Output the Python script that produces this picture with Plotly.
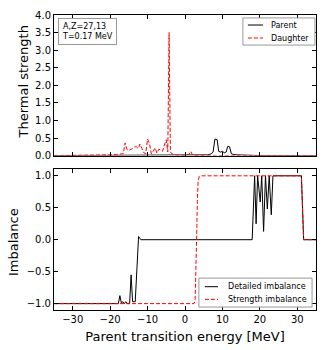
import plotly.graph_objects as go
from plotly.subplots import make_subplots

# Thermal strength (top panel)
parent_e = [-35, 3.5, 4.0, 5.0, 6.0, 6.5, 7.0, 7.5, 8.0, 8.6, 9.0, 9.5, 10.0, 10.5, 11.0, 11.4, 11.9, 12.4, 13.0, 14.0, 16.0, 18.0, 20.0, 35]
parent_s = [0, 0, 0.01, 0.01, 0.02, 0.03, 0.05, 0.1, 0.47, 0.45, 0.12, 0.1, 0.12, 0.08, 0.1, 0.26, 0.25, 0.05, 0.03, 0.02, 0.01, 0.01, 0, 0]

daughter_e = [-35, -25, -24, -23, -22, -21, -20, -19, -18, -17, -16.5, -16, -15.5, -15, -14.5, -14, -13.5, -13,
              -12.5, -12, -11.5, -11, -10.5, -10, -9.5, -9, -8.5, -8, -7.5, -7, -6.5, -6, -5.5, -5, -4.6,
              -4.25, -3.9, -3.5, -3, -2.5, -2, -1, 0, 1, 1.5, 2, 2.5, 35]
daughter_s = [0, 0, 0.01, 0.01, 0.0, 0.02, 0.02, 0.03, 0.02, 0.05, 0.05, 0.36, 0.17, 0.15, 0.17, 0.2, 0.25, 0.25,
              0.2, 0.33, 0.2, 0.08, 0.05, 0.47, 0.35, 0.05, 0.12, 0.22, 0.07, 0.18, 0.15, 0.12, 0.3, 0.45, 0.1,
              3.5, 0.1, 0.05, 0.03, 0.01, 0.01, 0.01, 0, 0.02, 0.12, 0.02, 0, 0]

# Imbalance (bottom panel)
detail_e = [-35, -17.8, -17.4, -17.0, -16.6, -16.2, -15.8, -15.3, -14.8, -14.4, -14.0, -13.3, -12.4, -12.1, -11.8,
            17.95, 18.6, 19.0, 19.4, 20.1, 20.5, 21.0, 21.5, 22.0, 22.5, 23.05, 23.5, 31.1, 31.7, 35]
detail_i = [-1, -1, -0.875, -0.99, -0.97, -1.0, -0.97, -1.0, -1.0, -0.55, -0.97, -0.97, 0.05, 0.02, 0,
            0, 1.0, 0.25, 1.0, 0.59, 1.0, 0.13, 1.0, 0.48, 1.0, 0.39, 1.0, 1.0, 0, 0]

strength_e = [-35, 2.4, 2.7, 2.9, 3.1, 3.3, 3.5, 3.8, 4.3, 31.1, 31.7, 35]
strength_i = [-1, -1, -0.95, -0.6, 0.0, 0.6, 0.92, 0.99, 1.0, 1.0, 0, 0]

font = "DejaVu Sans"
red_dash = dict(color="red", width=1, dash="4px,2px")
black_line = dict(color="black", width=1)

fig = make_subplots(rows=2, cols=1, vertical_spacing=0.047)

fig.add_trace(go.Scatter(x=parent_e, y=parent_s, mode="lines", name="Parent", line=black_line), row=1, col=1)
fig.add_trace(go.Scatter(x=daughter_e, y=daughter_s, mode="lines", name="Daughter", line=red_dash), row=1, col=1)
fig.add_trace(go.Scatter(x=detail_e, y=detail_i, mode="lines", name="Detailed imbalance", line=black_line), row=2, col=1)
fig.add_trace(go.Scatter(x=strength_e, y=strength_i, mode="lines", name="Strength imbalance", line=red_dash), row=2, col=1)

axis_style = dict(showline=True, linecolor="black", linewidth=1, mirror="ticks", ticks="inside",
                  ticklen=4, tickcolor="black", showgrid=False, zeroline=False, automargin=False,
                  tickfont=dict(family=font, size=10, color="black"))
title_font = dict(family=font, size=13, color="black")

fig.update_xaxes(range=[-35, 35], tickvals=[-30, -20, -10, 0, 10, 20, 30], **axis_style)
fig.update_xaxes(showticklabels=False, row=1, col=1)
fig.update_xaxes(title=dict(text="Parent transition energy [MeV]", font=title_font, standoff=7), row=2, col=1)
fig.update_yaxes(**axis_style)
fig.update_yaxes(range=[0, 4], dtick=0.5, tickformat=".1f", row=1, col=1)
fig.update_yaxes(range=[-1.1, 1.1], dtick=0.5, tickformat=".1f", row=2, col=1)

# y titles placed as rotated annotations
fig.add_annotation(xref="paper", yref="paper", x=-0.1164, y=0.7729, xanchor="center", yanchor="middle",
                   text="Thermal strength", textangle=-90, showarrow=False, font=title_font)
fig.add_annotation(xref="paper", yref="paper", x=-0.1546, y=0.2322, xanchor="center", yanchor="middle",
                   text="Imbalance", textangle=-90, showarrow=False, font=title_font)

# info box
fig.add_annotation(xref="paper", yref="paper", x=0.015, y=0.99, xanchor="left", yanchor="top",
                   text="A,Z=27,13<br>T=0.17 MeV", showarrow=False, align="left",
                   font=dict(family=font, size=8, color="black"),
                   bordercolor="#999999", borderwidth=1, borderpad=3, bgcolor="white")

# hand-drawn legends (matplotlib style)
legends = [
    dict(box=(0.721, 0.898, 0.996, 0.990), x0=0.740, x1=0.798, tx=0.821,
         rows=[("Parent", black_line, 0.966), ("Daughter", red_dash, 0.922)]),
    dict(box=(0.553, 0.010, 0.985, 0.108), x0=0.576, x1=0.626, tx=0.656,
         rows=[("Detailed imbalance", black_line, 0.079), ("Strength imbalance", red_dash, 0.036)]),
]
for lg in legends:
    bx0, by0, bx1, by1 = lg["box"]
    fig.add_shape(type="rect", xref="paper", yref="paper", x0=bx0, y0=by0, x1=bx1, y1=by1,
                  line=dict(color="#999999", width=1), fillcolor="white", layer="above")
    for label, style, yy in lg["rows"]:
        fig.add_shape(type="line", xref="paper", yref="paper", x0=lg["x0"], x1=lg["x1"], y0=yy, y1=yy,
                      line=style, layer="above")
        fig.add_annotation(xref="paper", yref="paper", x=lg["tx"], y=yy, xanchor="left", yanchor="middle",
                           text=label, showarrow=False, font=dict(family=font, size=8, color="black"))

fig.update_layout(
    width=325, height=350,
    margin=dict(l=54, r=9, t=15, b=40),
    paper_bgcolor="white", plot_bgcolor="white",
    font=dict(family=font, color="black"),
    showlegend=False,
)

fig.write_html("out.html", config={"displayModeBar": False},
               post_script="document.body.style.margin='0px';")
